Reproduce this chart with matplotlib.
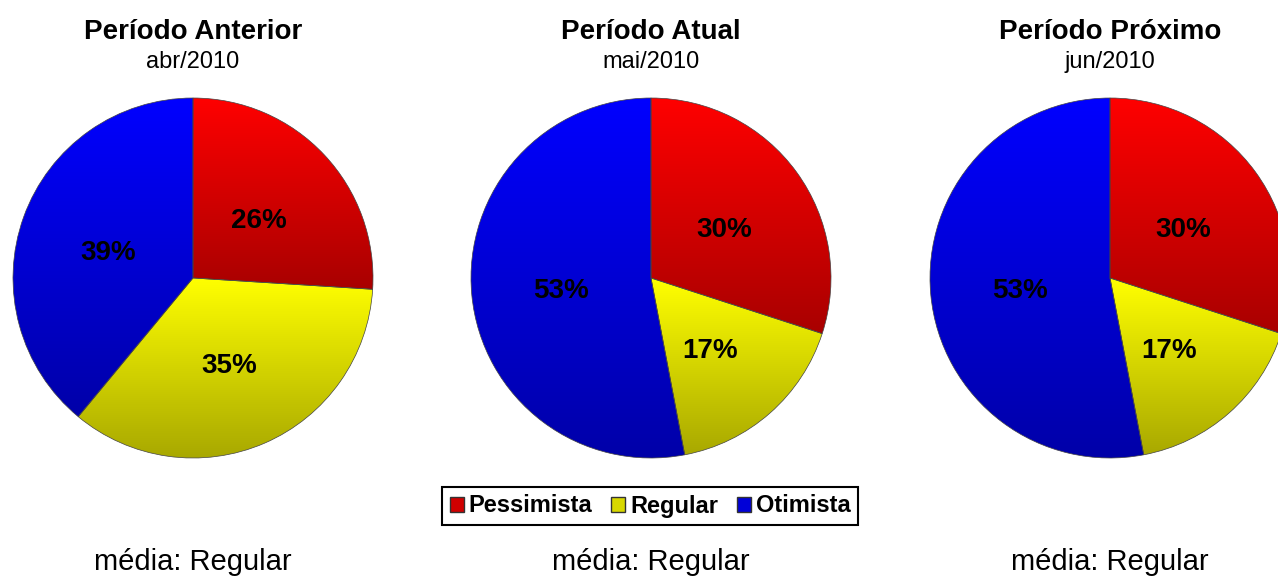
import numpy as np
import matplotlib
matplotlib.use('Agg')
import matplotlib.pyplot as plt
from matplotlib.colors import to_rgb

plt.rcParams['font.family'] = ['Liberation Sans', 'DejaVu Sans']

categorias = ['Pessimista', 'Regular', 'Otimista']
cores = ['#FF0000', '#FFFF00', '#0000FF']
periodos = ['Período Anterior', 'Período Atual', 'Período Próximo']
meses = ['abr/2010', 'mai/2010', 'jun/2010']
anterior = [26, 35, 39]
atual = [30, 17, 53]
proximo = [30, 17, 53]
medias = ['Regular', 'Regular', 'Regular']
valores = [anterior, atual, proximo]

W, H = 1278, 578
centros_x = [193, 651, 1110]
cy = H - 278
R = 180


def gradiente(ax, w, cor):
    # vertical gradient over the wedge's own bounding box
    bb = w.get_path().get_extents()
    base = np.array(to_rgb(cor))
    t = np.linspace(0, 1, 256).reshape(-1, 1, 1)
    img = base * (1 - 0.34 * t) * np.ones((256, 2, 3))
    im = ax.imshow(img, extent=(bb.x0, bb.x1, bb.y0, bb.y1), origin='upper',
                   aspect='auto', zorder=0.9, interpolation='bilinear')
    im.set_clip_path(w)
    w.set_facecolor('none')


fig = plt.figure(figsize=(W / 100, H / 100), dpi=100)
ax = fig.add_axes([0, 0, 1, 1])

handles = [plt.Rectangle((0, 0), 1, 1, facecolor=c, edgecolor='#333333', lw=1)
           for c in ['#D00000', '#D8D800', '#0000D8']]

for cx, vals, titulo, mes, media in zip(centros_x, valores, periodos, meses, medias):
    wedges, _, autotexts = ax.pie(vals, colors=cores, startangle=90, counterclock=False,
                                  center=(cx, cy), radius=R, autopct='%.0f%%',
                                  pctdistance=0.5,
                                  wedgeprops=dict(edgecolor='#444444', linewidth=0.5),
                                  textprops=dict(fontsize=20, fontweight='bold', color='black'))
    for t in autotexts:
        x, y = t.get_position()
        t.set_position((x, y - 5))
    for w, c in zip(wedges, cores):
        gradiente(ax, w, c)
    ax.text(cx, H - 32, titulo, ha='center', va='center', fontsize=20, fontweight='bold')
    ax.text(cx, H - 62, mes, ha='center', va='center', fontsize=17)
    ax.text(cx, H - 562, 'média: ' + media, ha='center', va='center', fontsize=21)

ax.set_xlim(0, W)
ax.set_ylim(0, H)
ax.set_aspect('equal')
ax.axis('off')

leg = fig.legend(handles, categorias, loc='center', bbox_to_anchor=(650 / W, 1 - 506 / H),
                 ncol=3, fancybox=False, edgecolor='black', framealpha=1,
                 prop=dict(size=17, weight='bold'), handlelength=0.6, handleheight=0.6,
                 handletextpad=0.2, columnspacing=0.8, borderpad=0.3, borderaxespad=0)
leg.get_frame().set_linewidth(1.5)

fig.savefig('out.png', dpi=100)
